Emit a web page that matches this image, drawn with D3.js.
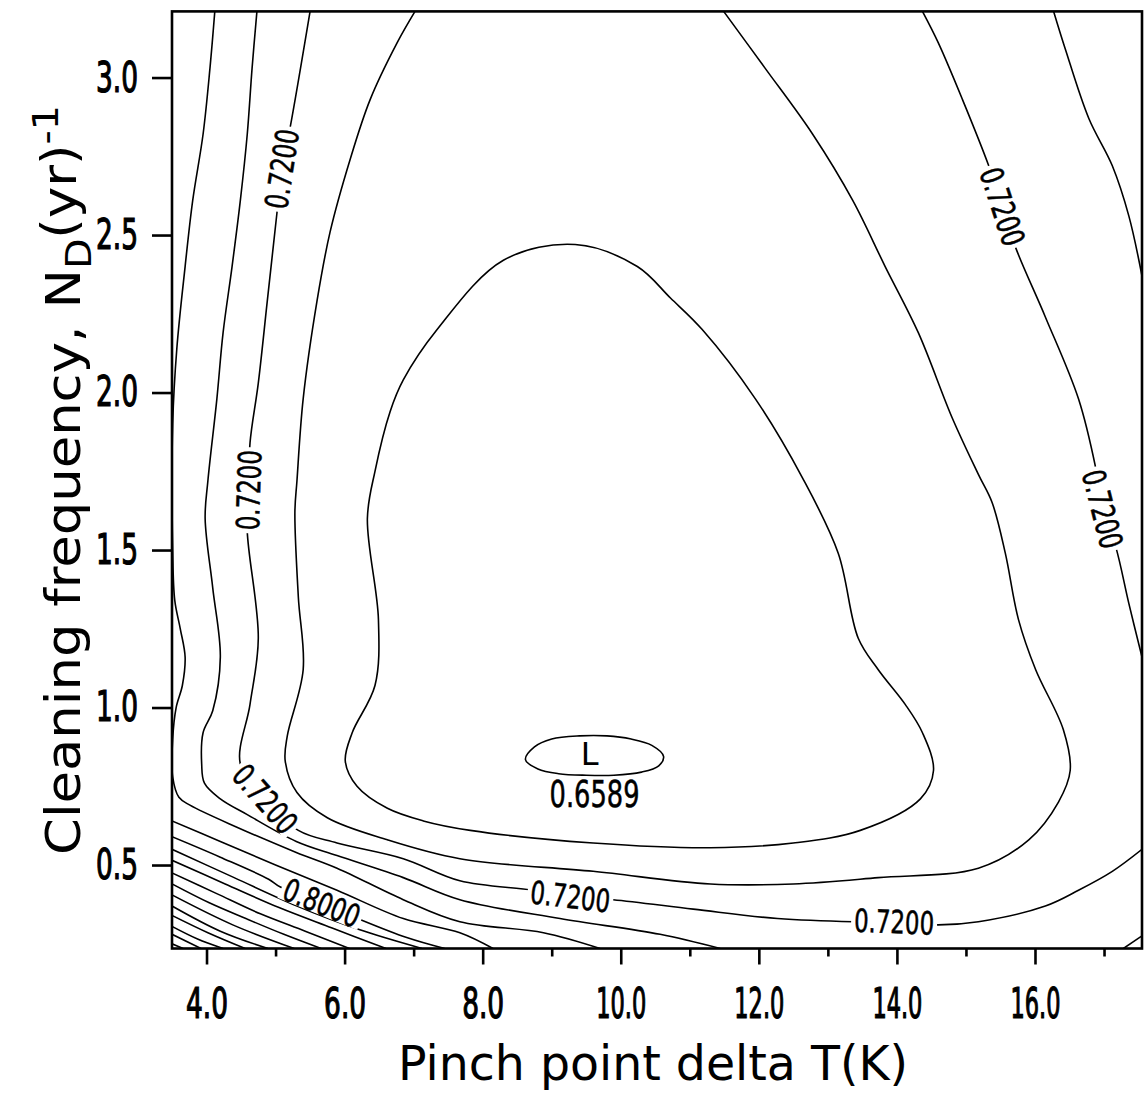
<!DOCTYPE html>
<html>
<head>
<meta charset="utf-8">
<script src="https://cdn.jsdelivr.net/npm/d3@7"></script>
<style>
  body { margin: 0; background: #fff; }
  svg { display: block; }
  .contour { fill: none; stroke: #000; stroke-width: 1.6; stroke-linejoin: round; }
  .axis line { stroke: #000; stroke-width: 2.6; }
  .axis text { font-family: "DejaVu Sans Condensed", "DejaVu Sans", sans-serif; font-size: 42px; fill: #000;
    stroke: #000; stroke-width: 1.2px; }
</style>
</head>
<body>
<div id="chart"></div>
<script>
// axis values
var xTicksMajor = [4, 6, 8, 10, 12, 14, 16];
var xTicksMinor = [5, 7, 9, 11, 13, 15, 17];
var yTicks = [0.5, 1.0, 1.5, 2.0, 2.5, 3.0];
var xDomain = [3.5, 17.55];
var yDomain = [0.235, 3.21];

// contour lines, [pinch point dT, cleaning frequency]
var contour066 = [[8.62,0.835],[8.75,0.875],[9.0,0.9],[9.4,0.91],[9.8,0.91],[10.15,0.9],[10.45,0.88],[10.62,0.845],
  [10.55,0.815],[10.3,0.795],[9.9,0.785],[9.5,0.785],[9.1,0.79],[8.8,0.805]];

var contour068 = [[9.34,2.47],[10.24,2.40],[10.72,2.30],[11.18,2.20],[11.95,1.98],[12.63,1.73],[13.15,1.49],[13.44,1.22],
  [13.73,1.12],[14.12,1.01],[14.37,0.92],[14.53,0.80],[14.34,0.71],[13.47,0.61],[12.5,0.57],[11.3,0.555],[9.6,0.57],
  [7.82,0.61],[7.14,0.64],[6.62,0.68],[6.18,0.75],[6.01,0.83],[6.11,0.92],[6.44,1.07],[6.49,1.28],[6.33,1.6],
  [6.44,1.75],[6.66,1.94],[6.85,2.04],[7.34,2.20],[8.3,2.42]];

var contour070 = [[7.02,3.21],[6.76,3.11],[6.37,2.93],[6.08,2.74],[5.79,2.51],[5.6,2.29],[5.4,1.98],[5.31,1.72],
  [5.28,1.62],[5.33,1.35],[5.4,1.12],[5.17,0.91],[5.14,0.83],[5.31,0.73],[5.75,0.65],[6.62,0.58],[7.67,0.52],
  [9.6,0.48],[11.3,0.44],[12.5,0.44],[13.73,0.46],[15.18,0.49],[15.91,0.58],[16.34,0.70],[16.51,0.80],[16.41,0.93],
  [16.01,1.12],[15.76,1.28],[15.57,1.49],[15.38,1.65],[15.18,1.74],[14.8,1.92],[14.31,2.19],[13.83,2.40],
  [13.36,2.61],[12.78,2.82],[12.09,3.03],[11.49,3.21]];

var contour072Main = [[5.5,3.21],[5.21,2.84],[5.09,2.71],[5.02,2.57],[4.88,2.29],[4.75,2.03],[4.63,1.84],[4.61,1.69],
  [4.59,1.56],[4.75,1.22],[4.63,1.01],[4.49,0.82],[4.85,0.71],[5.33,0.61],[5.89,0.57],[6.85,0.52],[7.67,0.45],
  [8.73,0.42],[9.27,0.40],[9.89,0.39],[11.05,0.36],[12.27,0.33],[13.37,0.32],[13.96,0.32],[14.6,0.31],[15.18,0.32],
  [16.15,0.37],[16.63,0.42],[17.12,0.48],[17.55,0.55]];

var contour072Right = [[14.37,3.21],[14.6,3.11],[14.95,2.93],[15.33,2.72],[15.53,2.59],[15.72,2.46],[16.15,2.24],
  [16.63,1.98],[16.88,1.76],[16.98,1.63],[17.17,1.51],[17.36,1.33],[17.55,1.16]];

var contour074Left = [[4.73,3.21],[4.66,3.03],[4.59,2.82],[4.49,2.61],[4.37,2.40],[4.24,2.19],[4.15,1.98],[4.02,1.72],
  [3.98,1.6],[4.09,1.38],[4.2,1.16],[4.09,0.99],[3.95,0.92],[3.93,0.82],[3.97,0.76],[4.2,0.71],[4.59,0.66],
  [5.3,0.575],[5.89,0.53],[6.85,0.46],[7.67,0.39],[9.12,0.33],[10.57,0.28],[11.44,0.235]];
var contour074Right = [[16.27,3.21],[16.44,3.09],[16.78,2.87],[17.12,2.72],[17.36,2.56],[17.55,2.37]];
var contour074Corner = [[17.28,0.235],[17.55,0.275]];

var contour076 = [[4.12,3.21],[4.05,3.03],[3.95,2.82],[3.8,2.61],[3.69,2.40],[3.57,2.14],[3.51,1.9],[3.51,1.5],
  [3.54,1.34],[3.62,1.25],[3.69,1.16],[3.65,1.07],[3.56,1.0],[3.51,0.9],[3.51,0.78],[3.6,0.715],[3.76,0.69],
  [4.44,0.62],[5.3,0.54],[5.89,0.49],[6.85,0.39],[7.67,0.32],[8.88,0.285],[9.7,0.235]];
var contour078 = [[3.5,0.64],[4.2,0.575],[5.0,0.5],[5.89,0.42],[6.85,0.33],[7.67,0.285],[8.15,0.235]];
var contour080 = [[3.5,0.59],[4.2,0.525],[4.9,0.455],[5.07,0.43],[5.67,0.38],[6.25,0.325],[6.9,0.27],[7.45,0.235]];
var contour082 = [[3.5,0.55],[4.4,0.46],[5.31,0.37],[6.21,0.295],[7.12,0.235]];
var contour084 = [[3.5,0.515],[4.27,0.44],[5.05,0.365],[5.82,0.30],[6.6,0.235]];
var contour086 = [[3.5,0.475],[4.14,0.41],[4.78,0.345],[5.43,0.29],[6.07,0.235]];
var contour088 = [[3.5,0.44],[4.04,0.38],[4.57,0.33],[5.12,0.28],[5.66,0.235]];
var contour090 = [[3.5,0.405],[4.38,0.31],[5.27,0.235]];
var contour092 = [[3.5,0.37],[4.2,0.29],[4.89,0.235]];
var contour094 = [[3.5,0.34],[4.02,0.285],[4.56,0.235]];
var contour096 = [[3.5,0.305],[3.87,0.265],[4.24,0.235]];
var contour098 = [[3.5,0.28],[3.92,0.235]];
var contour100 = [[3.5,0.25],[3.66,0.235]];

var closedLines = [contour066, contour068];
var openLines = [contour070, contour072Main, contour072Right, contour074Left, contour074Right, contour074Corner,
  contour076, contour078, contour080, contour082, contour084, contour086, contour088, contour090, contour092,
  contour094, contour096, contour098, contour100];

// in-line contour labels: text, the line it sits on, and where
var lineLabels = [
  { text: "0.7200", on: contour072Main, at: [5.09, 2.71] },
  { text: "0.7200", on: contour072Main, at: [4.61, 1.69] },
  { text: "0.7200", on: contour072Main, at: [4.85, 0.71] },
  { text: "0.7200", on: contour072Main, at: [9.27, 0.40] },
  { text: "0.7200", on: contour072Main, at: [13.96, 0.32] },
  { text: "0.7200", on: contour072Right, at: [15.53, 2.59] },
  { text: "0.7200", on: contour072Right, at: [16.98, 1.63] },
  { text: "0.8000", on: contour080, at: [5.67, 0.38] }
];
var minimumMark = "L";
var minimumAt = [9.55, 0.855];
var minimumValue = "0.6589";
var minimumValueAt = [9.62, 0.728];

var W = 1147, H = 1098;
var plotLeft = 172, plotRight = 1142, plotTop = 11.4, plotBottom = 948.5;

var x = d3.scaleLinear().domain(xDomain).range([plotLeft, plotRight]);
var y = d3.scaleLinear().domain(yDomain).range([plotBottom, plotTop]);

var svg = d3.select("#chart").append("svg")
  .attr("width", W)
  .attr("height", H);

svg.append("rect").attr("width", W).attr("height", H).attr("fill", "#fff");

svg.append("defs").append("clipPath").attr("id", "plot-clip")
  .append("rect")
  .attr("x", plotLeft).attr("y", plotTop)
  .attr("width", plotRight - plotLeft).attr("height", plotBottom - plotTop);

var plot = svg.append("g").attr("clip-path", "url(#plot-clip)");

var lineOpen = d3.line()
  .x(function(d) { return x(d[0]); })
  .y(function(d) { return y(d[1]); })
  .curve(d3.curveCatmullRom.alpha(0.5));

var lineClosed = d3.line()
  .x(function(d) { return x(d[0]); })
  .y(function(d) { return y(d[1]); })
  .curve(d3.curveCatmullRomClosed.alpha(0.5));

plot.selectAll(".closed")
  .data(closedLines)
  .enter().append("path")
  .attr("class", "contour closed")
  .attr("d", lineClosed);

plot.selectAll(".open")
  .data(openLines)
  .enter().append("path")
  .attr("class", "contour open")
  .attr("d", lineOpen);

// angle of a line at the vertex nearest to a point, kept readable
function angleAt(pts, at) {
  var best = 0, bestD = Infinity;
  pts.forEach(function(p, i) {
    var d = Math.hypot(x(p[0]) - x(at[0]), y(p[1]) - y(at[1]));
    if (d < bestD) { bestD = d; best = i; }
  });
  var a = pts[Math.max(0, best - 1)], b = pts[Math.min(pts.length - 1, best + 1)];
  var ang = Math.atan2(y(b[1]) - y(a[1]), x(b[0]) - x(a[0])) * 180 / Math.PI;
  if (ang > 90) ang -= 180;
  if (ang < -90) ang += 180;
  return ang;
}

var labelFont = '"DejaVu Sans Condensed", "DejaVu Sans", sans-serif';

var labelG = svg.selectAll(".line-label")
  .data(lineLabels)
  .enter().append("g")
  .attr("class", "line-label")
  .attr("transform", function(d) {
    return "translate(" + x(d.at[0]) + "," + y(d.at[1]) + ") rotate(" + angleAt(d.on, d.at) + ")";
  });

labelG.append("rect")
  .attr("x", -43).attr("y", -12)
  .attr("width", 86).attr("height", 24)
  .attr("fill", "#fff");

labelG.append("text")
  .attr("text-anchor", "middle")
  .attr("dy", "0.36em")
  .attr("textLength", 80)
  .attr("lengthAdjust", "spacingAndGlyphs")
  .style("font-family", labelFont)
  .style("font-size", "32px")
  .style("stroke", "#000")
  .style("stroke-width", "0.5px")
  .text(function(d) { return d.text; });

var minG = svg.append("g")
  .attr("transform", "translate(" + x(minimumValueAt[0]) + "," + y(minimumValueAt[1]) + ")");
minG.append("rect")
  .attr("x", -48).attr("y", -15)
  .attr("width", 96).attr("height", 30)
  .attr("fill", "#fff");
minG.append("text")
  .attr("text-anchor", "middle")
  .attr("dy", "0.36em")
  .attr("textLength", 90)
  .attr("lengthAdjust", "spacingAndGlyphs")
  .style("font-family", labelFont)
  .style("font-size", "37px")
  .style("stroke", "#000")
  .style("stroke-width", "0.5px")
  .text(minimumValue);

svg.append("text")
  .attr("x", x(minimumAt[0]))
  .attr("y", y(minimumAt[1]))
  .attr("text-anchor", "middle")
  .attr("dy", "0.36em")
  .style("font-family", '"DejaVu Sans", sans-serif')
  .style("font-size", "32px")
  .style("fill", "#000")
  .text(minimumMark);

// axes
var fmt = d3.format(".1f");

svg.append("g")
  .attr("class", "axis")
  .attr("transform", "translate(0," + plotBottom + ")")
  .call(d3.axisBottom(x).tickValues(xTicksMajor).tickSize(16).tickPadding(24).tickFormat(fmt));

svg.append("g")
  .attr("class", "axis")
  .attr("transform", "translate(0," + plotBottom + ")")
  .call(d3.axisBottom(x).tickValues(xTicksMinor).tickSize(8).tickFormat(""));

svg.append("g")
  .attr("class", "axis")
  .attr("transform", "translate(" + plotLeft + ",0)")
  .call(d3.axisLeft(y).tickValues(yTicks).tickSize(20).tickPadding(14).tickFormat(fmt));

svg.selectAll(".axis .domain").remove();
svg.selectAll(".axis text")
  .attr("textLength", function() { return this.textContent.length > 3 ? 50 : 42; })
  .attr("lengthAdjust", "spacingAndGlyphs");

// frame
svg.append("rect")
  .attr("x", plotLeft).attr("y", plotTop)
  .attr("width", plotRight - plotLeft).attr("height", plotBottom - plotTop)
  .attr("fill", "none")
  .attr("stroke", "#000")
  .attr("stroke-width", 2.6);

// axis titles
svg.append("text")
  .attr("x", 653)
  .attr("y", 1080)
  .attr("text-anchor", "middle")
  .attr("textLength", 510)
  .attr("lengthAdjust", "spacingAndGlyphs")
  .style("font-family", '"DejaVu Sans", sans-serif')
  .style("font-size", "48px")
  .text("Pinch point delta T(K)");

var yTitle = svg.append("text")
  .attr("text-anchor", "middle")
  .style("font-family", '"DejaVu Sans", sans-serif')
  .style("font-size", "48px");
yTitle.append("tspan").text("Cleaning frequency, N");
yTitle.append("tspan").attr("dy", "0.3em").style("font-size", "36px").text("D");
yTitle.append("tspan").attr("dy", "-0.3em").text("(yr)");
yTitle.append("tspan").attr("dy", "-0.5em").style("font-size", "36px").text("-1");

// stretch the y title along its run to the length used in the chart
var yTitleLen = yTitle.node().getComputedTextLength();
yTitle.attr("transform", "translate(80,480) rotate(-90) scale(" + (750 / yTitleLen) + ",1)");
</script>
</body>
</html>
